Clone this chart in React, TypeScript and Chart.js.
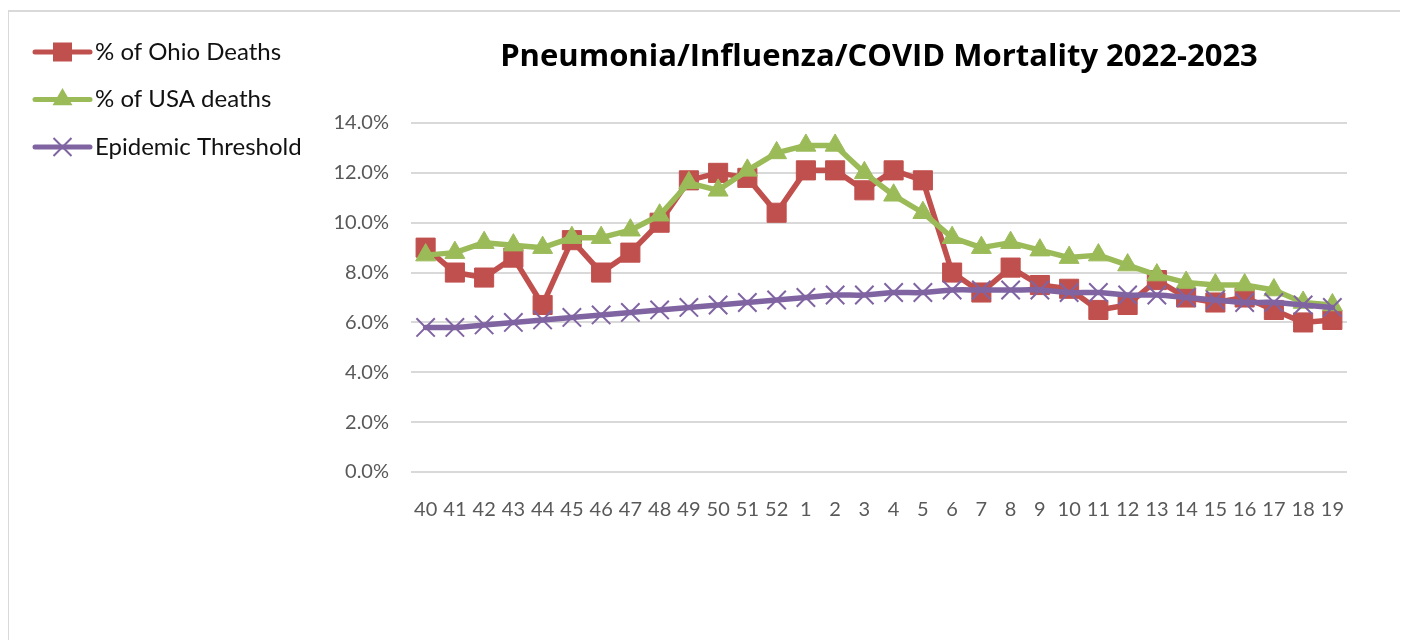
import { useEffect, useRef } from 'react';
import { Chart, registerables } from 'chart.js';

Chart.register(...registerables);

const chartTitle = 'Pneumonia/Influenza/COVID Mortality 2022-2023';
const weeks = ['40', '41', '42', '43', '44', '45', '46', '47', '48', '49', '50', '51', '52', '1', '2', '3', '4', '5', '6', '7', '8', '9', '10', '11', '12', '13', '14', '15', '16', '17', '18', '19'];
const ohioDeaths = [9.0, 8.0, 7.8, 8.6, 6.7, 9.3, 8.0, 8.8, 10.0, 11.7, 12.0, 11.8, 10.4, 12.1, 12.1, 11.3, 12.1, 11.7, 8.0, 7.2, 8.2, 7.5, 7.35, 6.5, 6.7, 7.7, 7.0, 6.8, 7.0, 6.5, 6.0, 6.1];
const usaDeaths = [8.7, 8.8, 9.2, 9.1, 9.0, 9.4, 9.4, 9.7, 10.3, 11.6, 11.3, 12.1, 12.8, 13.1, 13.1, 12.0, 11.1, 10.4, 9.4, 9.0, 9.2, 8.9, 8.6, 8.7, 8.3, 7.9, 7.6, 7.5, 7.5, 7.3, 6.8, 6.7];
const epidemicThreshold = [5.8, 5.8, 5.9, 6.0, 6.1, 6.2, 6.3, 6.4, 6.5, 6.6, 6.7, 6.8, 6.9, 7.0, 7.1, 7.1, 7.2, 7.2, 7.3, 7.3, 7.3, 7.3, 7.2, 7.2, 7.1, 7.1, 7.0, 6.9, 6.8, 6.8, 6.7, 6.6];
const seriesLabels = ['% of Ohio Deaths', '% of USA deaths', 'Epidemic Threshold'];
const yTicks = [0, 2, 4, 6, 8, 10, 12, 14];

const RED = '#C0504D';
const GREEN = '#9BBB59';
const PURPLE = '#8064A2';

const legendPlugin = {
  id: 'sideLegend',
  afterDraw(chart: any) {
    const ctx = chart.ctx as CanvasRenderingContext2D;
    const x0 = 26;
    const x1 = 81;
    const xm = (x0 + x1) / 2;
    const top = 40;
    const step = 47.5;
    ctx.save();
    chart.data.datasets.forEach((d: any, i: number) => {
      const y = top + i * step;
      ctx.strokeStyle = d.borderColor;
      ctx.lineWidth = 5;
      ctx.lineCap = 'round';
      ctx.beginPath();
      ctx.moveTo(x0, y);
      ctx.lineTo(x1, y);
      ctx.stroke();
      const style = d.pointStyle;
      if (style === 'rect') {
        ctx.fillStyle = d.borderColor;
        ctx.fillRect(xm - 9.5, y - 9.5, 19, 19);
      } else if (style === 'triangle') {
        const r = 11.5;
        ctx.fillStyle = d.borderColor;
        ctx.beginPath();
        ctx.moveTo(xm, y - r);
        ctx.lineTo(xm + r * 0.866, y + r * 0.5);
        ctx.lineTo(xm - r * 0.866, y + r * 0.5);
        ctx.closePath();
        ctx.fill();
      } else {
        const h = 9;
        ctx.lineWidth = 2;
        ctx.lineCap = 'butt';
        ctx.beginPath();
        ctx.moveTo(xm - h, y - h);
        ctx.lineTo(xm + h, y + h);
        ctx.moveTo(xm - h, y + h);
        ctx.lineTo(xm + h, y - h);
        ctx.stroke();
      }
      ctx.fillStyle = '#111111';
      ctx.font = '24px Lato';
      ctx.textBaseline = 'middle';
      ctx.textAlign = 'left';
      ctx.fillText(d.label, 86, y);
    });
    ctx.restore();
  },
};

export default function App() {
  const ref = useRef<HTMLCanvasElement | null>(null);

  useEffect(() => {
    if (!ref.current) return;
    const chart = new Chart(ref.current, {
      type: 'line',
      data: {
        labels: weeks,
        datasets: [
          {
            label: seriesLabels[0],
            data: ohioDeaths,
            borderColor: RED,
            backgroundColor: RED,
            borderWidth: 5.5,
            pointStyle: 'rect',
            pointRadius: 13.5,
            pointBorderWidth: 1,
            pointBackgroundColor: RED,
            pointBorderColor: RED,
            borderCapStyle: 'round',
            borderJoinStyle: 'round',
            tension: 0,
            order: 3,
          },
          {
            label: seriesLabels[1],
            data: usaDeaths,
            borderColor: GREEN,
            backgroundColor: GREEN,
            borderWidth: 5.5,
            pointStyle: 'triangle',
            pointRadius: 11.5,
            pointBorderWidth: 1,
            pointBackgroundColor: GREEN,
            pointBorderColor: GREEN,
            borderCapStyle: 'round',
            borderJoinStyle: 'round',
            tension: 0,
            order: 2,
          },
          {
            label: seriesLabels[2],
            data: epidemicThreshold,
            borderColor: PURPLE,
            backgroundColor: PURPLE,
            borderWidth: 5.5,
            pointStyle: 'crossRot',
            pointRadius: 13,
            pointBorderWidth: 2,
            pointBorderColor: PURPLE,
            borderCapStyle: 'round',
            borderJoinStyle: 'round',
            tension: 0.4,
            order: 1,
          },
        ],
      },
      options: {
        responsive: false,
        animation: false,
        devicePixelRatio: 1,
        layout: { padding: { left: 320, right: 58, top: 10, bottom: 118 } },
        plugins: {
          legend: { display: false },
          tooltip: { enabled: false },
          title: {
            display: true,
            text: chartTitle,
            fullSize: false,
            color: '#000000',
            font: { family: 'Open Sans', size: 31, weight: 'bold' },
            padding: { top: 17, bottom: 46.8 },
          },
        },
        scales: {
          x: {
            offset: true,
            grid: { display: false },
            border: { display: false },
            ticks: {
              color: '#595959',
              font: { family: 'Lato', size: 20 },
              padding: 18,
              maxRotation: 0,
              autoSkip: false,
            },
            afterFit: (s: any) => {
              s.height = 50;
            },
          },
          y: {
            min: 0,
            max: 14,
            afterBuildTicks: (s: any) => {
              s.ticks = yTicks.map((v) => ({ value: v }));
            },
            grid: { color: '#D9D9D9', lineWidth: 2, drawTicks: false },
            border: { display: false },
            ticks: {
              color: '#595959',
              font: { family: 'Lato', size: 20 },
              padding: 22,
              callback: (v: any) => Number(v).toFixed(1) + '%',
            },
            afterFit: (s: any) => {
              s.width = 82;
            },
          },
        },
      },
      plugins: [legendPlugin],
    });
    return () => chart.destroy();
  }, []);

  return (
    <div
      style={{
        marginLeft: -1,
        marginTop: 2,
        width: 1396,
        height: 640,
        border: '2px solid #D9D9D9',
        background: '#FFFFFF',
      }}
    >
      <canvas ref={ref} width={1396} height={628} style={{ display: 'block' }} />
    </div>
  );
}
